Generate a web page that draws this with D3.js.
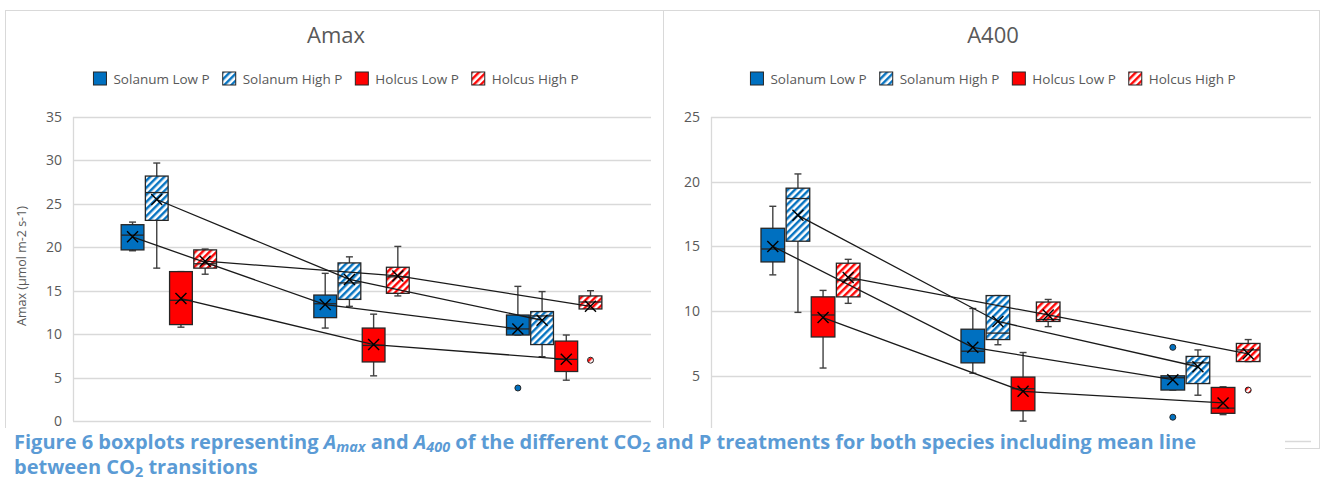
<!DOCTYPE html>
<html>
<head>
<meta charset="utf-8">
<script src="https://cdn.jsdelivr.net/npm/d3@7"></script>
<style>
	body { margin: 0; background: #fff; }
	svg text { font-family: "Open Sans", "Noto Sans", sans-serif; }
</style>
</head>
<body>
<svg id="fig" width="1322" height="482"></svg>
<script>

//----------------------------
// Data
//----------------------------

var seriesNames = ["Solanum Low P", "Solanum High P", "Holcus Low P", "Holcus High P"];
var groups = ["CO2 step 1", "CO2 step 2", "CO2 step 3"];

// each entry: [whisker low, q1, median, q3, whisker high, mean]
var amaxSolanumLow  = [[19.6, 19.7, 21.4, 22.6, 22.9, 21.2], [10.7, 11.9, 13.5, 14.5, 17.0, 13.4], [9.9, 9.9, 10.6, 12.2, 15.5, 10.6]];
var amaxSolanumHigh = [[17.6, 23.1, 26.3, 28.2, 29.7, 25.5], [13.2, 14.0, 15.9, 18.2, 18.9, 16.3], [7.4, 8.8, 12.1, 12.6, 14.9, 11.6]];
var amaxHolcusLow   = [[10.8, 11.1, 13.9, 17.2, 17.2, 14.1], [5.2, 6.8, 8.7, 10.7, 12.3, 8.8], [4.7, 5.7, 7.1, 9.2, 9.9, 7.1]];
var amaxHolcusHigh  = [[16.9, 17.6, 18.1, 19.7, 19.8, 18.4], [14.4, 14.7, 16.6, 17.7, 20.1, 16.7], [12.9, 12.9, 13.7, 14.4, 15.0, 13.2]];
var amaxOutliers    = [[[], [], [3.8]], [[], [], []], [[], [], []], [[], [], [7.0]]];
var amaxTicks = [0, 5, 10, 15, 20, 25, 30, 35];

var a400SolanumLow  = [[12.8, 13.8, 14.8, 16.4, 18.1, 15.0], [5.2, 6.0, 6.9, 8.6, 10.2, 7.2], [3.9, 3.9, 4.85, 5.0, 5.0, 4.7]];
var a400SolanumHigh = [[9.9, 15.4, 18.7, 19.5, 20.6, 17.4], [7.4, 7.8, 8.3, 11.2, 11.2, 9.2], [3.5, 4.4, 6.0, 6.5, 7.0, 5.7]];
var a400HolcusLow   = [[5.6, 8.0, 9.7, 11.1, 11.6, 9.5], [1.5, 2.3, 4.0, 4.9, 6.8, 3.8], [2.0, 2.1, 2.5, 4.1, 4.15, 2.9]];
var a400HolcusHigh  = [[10.6, 11.1, 12.4, 13.7, 14.0, 12.6], [8.8, 9.2, 9.35, 10.7, 10.9, 9.7], [6.1, 6.1, 7.0, 7.5, 7.8, 6.7]];
var a400Outliers    = [[[], [], [7.2, 1.8]], [[], [], []], [[], [], []], [[], [], [3.9]]];
var a400Ticks = [0, 5, 10, 15, 20, 25];

//----------------------------
// Styles
//----------------------------

var seriesFill = ["#0070C0", "url(#hatch-blue)", "#FF0000", "url(#hatch-red)"];
var gridColor = "#D9D9D9",
	textColor = "#595959",
	boxStroke = "#262626";

var captionTop = 428;	// the caption block hides everything below this

var svg = d3.select("#fig");

// Hatch patterns for the High P series

var defs = svg.append("defs");
[["hatch-blue", "#0070C0"], ["hatch-red", "#FF0000"]].forEach(function(p) {
	var pat = defs.append("pattern")
		.attr("id", p[0])
		.attr("patternUnits", "userSpaceOnUse")
		.attr("width", 5)
		.attr("height", 5)
		.attr("patternTransform", "rotate(45)");
	pat.append("rect").attr("width", 5).attr("height", 5).attr("fill", "white");
	pat.append("line")
		.attr("x1", 1.25).attr("y1", 0).attr("x2", 1.25).attr("y2", 5)
		.attr("stroke", p[1])
		.attr("stroke-width", 2.4);
});

//----------------------------
// Panel drawing routine
//----------------------------

function drawPanel(opts) {
	var g = svg.append("g");

	// Chart frame

	g.append("rect")
		.attr("x", opts.frame[0] + 0.5)
		.attr("y", 10.5)
		.attr("width", opts.frame[1] - opts.frame[0])
		.attr("height", 438)
		.attr("fill", "white")
		.attr("stroke", gridColor);

	var cx = (opts.frame[0] + opts.frame[1]) / 2 + 2;

	g.append("text")
		.attr("x", cx)
		.attr("y", 43)
		.attr("text-anchor", "middle")
		.attr("font-size", 22)
		.attr("fill", textColor)
		.text(opts.title);

	// Legend, centred under the title

	var leg = g.append("g");
	var item = leg.selectAll("g")
		.data(seriesNames)
		.enter().append("g");
	item.append("rect")
		.attr("width", 13)
		.attr("height", 13)
		.attr("y", 72)
		.attr("fill", function(d, i) { return seriesFill[i]; })
		.attr("stroke", boxStroke)
		.attr("stroke-width", 1);
	item.append("text")
		.attr("x", 20)
		.attr("y", 84)
		.attr("font-size", 13.5)
		.attr("fill", textColor)
		.text(function(d) { return d; });
	var xoff = 0;
	item.each(function() {
		var w = d3.select(this).select("text").node().getComputedTextLength();
		d3.select(this).attr("transform", "translate(" + xoff + ",0)");
		xoff += 20 + w + 13;
	});
	var legw = xoff - 13;
	leg.attr("transform", "translate(" + (cx - legw / 2) + ",0)");

	// Scales

	var y = d3.scaleLinear()
		.domain([0, opts.ticks[opts.ticks.length - 1]])
		.range([opts.yBottom, 117]);

	var xg = d3.scaleBand()
		.domain(groups)
		.range([opts.plotX[0], opts.plotX[1]]);

	var bw = xg.bandwidth();
	var xs = d3.scaleBand()
		.domain(seriesNames)
		.range([bw * 0.25, bw * 0.745])
		.paddingInner(0.06);

	// Gridlines and axis labels

	g.append("g")
		.selectAll("line")
		.data(opts.ticks)
		.enter().append("line")
			.attr("x1", opts.plotX[0])
			.attr("x2", opts.plotX[1])
			.attr("y1", function(d) { return Math.round(y(d)) + 0.5; })
			.attr("y2", function(d) { return Math.round(y(d)) + 0.5; })
			.attr("stroke", gridColor)
			.attr("stroke-width", 1.3);

	g.append("line")
		.attr("x1", opts.plotX[0] + 0.5).attr("x2", opts.plotX[0] + 0.5)
		.attr("y1", 117).attr("y2", opts.yBottom)
		.attr("stroke", gridColor)
		.attr("stroke-width", 1.3);

	// labels that would fall under the caption block are not shown
	g.append("g")
		.selectAll("text")
		.data(opts.ticks.filter(function(d) { return y(d) < captionTop - 5; }))
		.enter().append("text")
			.attr("x", opts.plotX[0] - 11)
			.attr("y", function(d) { return y(d) + 5; })
			.attr("text-anchor", "end")
			.attr("font-size", 14)
			.attr("fill", textColor)
			.text(function(d) { return d; });

	if (opts.yTitle) {
		g.append("text")
			.attr("transform", "translate(26," + 266 + ") rotate(-90)")
			.attr("text-anchor", "middle")
			.attr("font-size", 12.5)
			.attr("fill", textColor)
			.text(opts.yTitle);
	}

	// Boxes

	var cap = 3.5, xm = 5.5;
	var means = [];

	opts.stats.forEach(function(ser, si) {
		var mline = [];
		ser.forEach(function(s, gi) {
			var x0 = xg(groups[gi]) + xs(seriesNames[si]);
			var w = xs.bandwidth();
			var c = x0 + w / 2;
			var bg = g.append("g");

			// whisker
			bg.append("line")
				.attr("x1", c).attr("x2", c)
				.attr("y1", y(s[0])).attr("y2", y(s[4]))
				.attr("stroke", "#404040").attr("stroke-width", 1.4);
			[s[0], s[4]].forEach(function(v) {
				bg.append("line")
					.attr("x1", c - cap).attr("x2", c + cap)
					.attr("y1", y(v)).attr("y2", y(v))
					.attr("stroke", "#404040").attr("stroke-width", 1.4);
			});

			// box
			bg.append("rect")
				.attr("x", x0)
				.attr("y", y(s[3]))
				.attr("width", w)
				.attr("height", y(s[1]) - y(s[3]))
				.attr("fill", seriesFill[si])
				.attr("stroke", boxStroke)
				.attr("stroke-width", 1.3);

			// median
			bg.append("line")
				.attr("x1", x0).attr("x2", x0 + w)
				.attr("y1", y(s[2])).attr("y2", y(s[2]))
				.attr("stroke", boxStroke).attr("stroke-width", 1.3);

			// outliers
			opts.outliers[si][gi].forEach(function(v) {
				bg.append("circle")
					.attr("cx", c)
					.attr("cy", y(v))
					.attr("r", 3)
					.attr("fill", seriesFill[si])
					.attr("stroke", boxStroke)
					.attr("stroke-width", 1);
			});

			mline.push([c, y(s[5])]);
		});
		means.push(mline);
	});

	// Mean lines and mean markers

	g.append("g")
		.selectAll("path")
		.data(means)
		.enter().append("path")
			.attr("d", d3.line())
			.attr("fill", "none")
			.attr("stroke", "#1a1a1a")
			.attr("stroke-width", 1.3);

	means.forEach(function(ml) {
		ml.forEach(function(p) {
			g.append("path")
				.attr("d", "M" + (p[0] - xm) + "," + (p[1] - xm) + "L" + (p[0] + xm) + "," + (p[1] + xm) +
					"M" + (p[0] - xm) + "," + (p[1] + xm) + "L" + (p[0] + xm) + "," + (p[1] - xm))
				.attr("stroke", "#000")
				.attr("stroke-width", 1.4);
		});
	});
}

drawPanel({
	frame: [5, 663],
	plotX: [73, 651],
	yBottom: 421,
	title: "Amax",
	yTitle: "Amax (\u00b5mol m-2 s-1)",
	ticks: amaxTicks,
	stats: [amaxSolanumLow, amaxSolanumHigh, amaxHolcusLow, amaxHolcusHigh],
	outliers: amaxOutliers
});

drawPanel({
	frame: [663, 1319],
	plotX: [711, 1311],
	yBottom: 440.5,
	title: "A400",
	yTitle: null,
	ticks: a400Ticks,
	stats: [a400SolanumLow, a400SolanumHigh, a400HolcusLow, a400HolcusHigh],
	outliers: a400Outliers
});

//----------------------------
// Figure caption
//----------------------------

svg.append("rect")
	.attr("x", 0)
	.attr("y", captionTop)
	.attr("width", 1285)
	.attr("height", 482 - captionTop)
	.attr("fill", "white");

var capColor = "#5B9BD5";
var cap1 = svg.append("text")
	.attr("x", 14)
	.attr("y", 449)
	.attr("font-size", 19.5)
	.attr("font-weight", "bold")
	.attr("fill", capColor);

function part(t, txt, italic, sub) {
	var s = t.append("tspan").text(txt);
	if (italic) s.attr("font-style", "italic");
	if (sub) s.attr("font-size", 14).attr("dy", 3);
	return s;
}
part(cap1, "Figure 6 boxplots representing ");
part(cap1, "A", true);
part(cap1, "max", true, true);
part(cap1, " and ").attr("dy", -3);
part(cap1, "A", true);
part(cap1, "400", true, true);
part(cap1, " of the different CO").attr("dy", -3);
part(cap1, "2", false, true);
part(cap1, " and P treatments for both species including mean line").attr("dy", -3);

var cap2 = svg.append("text")
	.attr("x", 14)
	.attr("y", 474)
	.attr("font-size", 19.5)
	.attr("font-weight", "bold")
	.attr("fill", capColor);
part(cap2, "between CO");
part(cap2, "2", false, true);
part(cap2, " transitions").attr("dy", -3);

// squeeze both lines by the same factor so line 1 ends where it does in the figure
var n1 = cap1.node().getComputedTextLength(),
	n2 = cap2.node().getComputedTextLength(),
	ratio = 1182 / n1;
cap1.attr("textLength", 1182).attr("lengthAdjust", "spacingAndGlyphs");
cap2.attr("textLength", n2 * ratio).attr("lengthAdjust", "spacingAndGlyphs");

</script>
</body>
</html>
